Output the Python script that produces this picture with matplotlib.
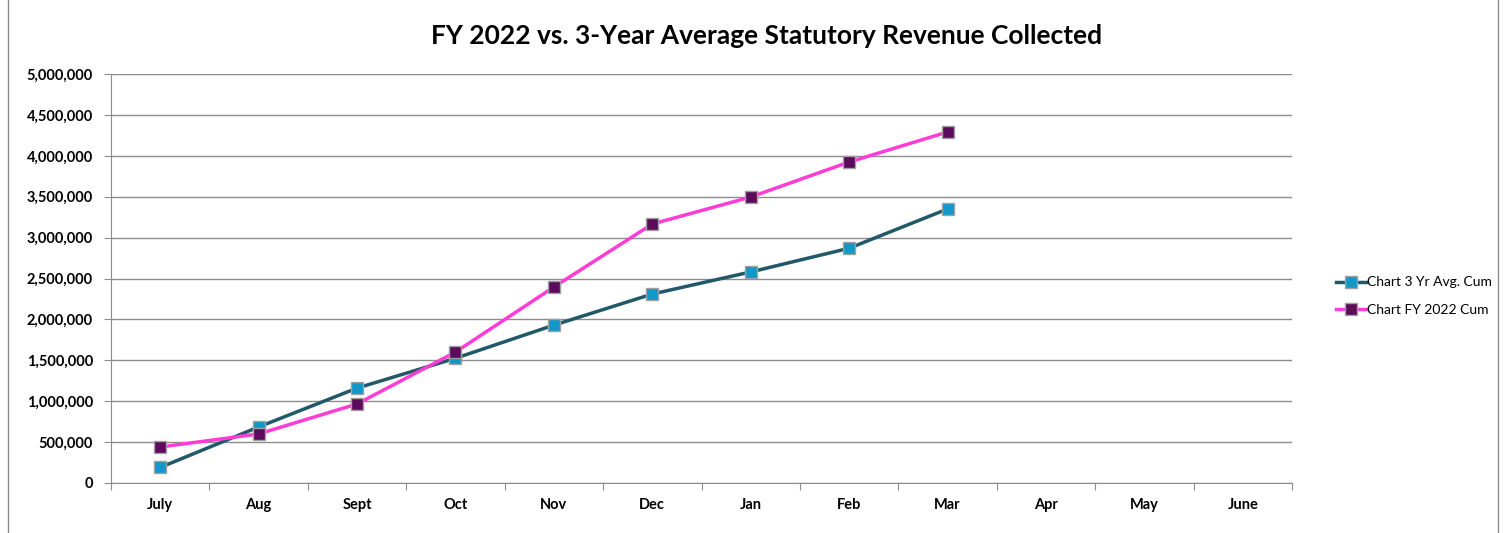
import matplotlib.pyplot as plt
from matplotlib.patches import Rectangle
from matplotlib.ticker import FuncFormatter, MultipleLocator

months = ["July", "Aug", "Sept", "Oct", "Nov", "Dec", "Jan", "Feb", "Mar", "Apr", "May", "June"]
avg_3yr = [190000, 685000, 1160000, 1525000, 1930000, 2310000, 2580000, 2870000, 3350000]
fy_2022 = [440000, 600000, 966000, 1600000, 2396000, 3166000, 3496000, 3924000, 4291000]

plt.rcParams['font.family'] = ['Lato', 'DejaVu Sans']

fig = plt.figure(figsize=(15.05, 5.33), dpi=100)
ax = fig.add_axes([111 / 1505, 50 / 533, 1181 / 1505, 409 / 533])

x_all = list(range(len(months)))
ax.plot(range(len(avg_3yr)), avg_3yr, color="#215968", lw=2.5, marker="s", ms=9,
        mfc="#1297c9", mec="#a0a0a0", mew=1, label="Chart 3 Yr Avg. Cum", zorder=3)
ax.plot(range(len(fy_2022)), fy_2022, color="#ff3cd6", lw=2.5, marker="s", ms=9,
        mfc="#5c0a5c", mec="#a0a0a0", mew=1, label="Chart FY 2022 Cum", zorder=4)

ax.set_xlim(-0.5, len(months) - 0.5)
ax.set_ylim(0, 5000000)
ax.yaxis.set_major_locator(MultipleLocator(500000))
ax.yaxis.set_major_formatter(FuncFormatter(lambda v, p: f"{int(v):,}"))
ax.grid(axis="y", color="#8c8c8c", lw=1)
ax.set_axisbelow(True)

ax.set_xticks([i - 0.5 for i in range(len(months) + 1)], minor=False)
ax.set_xticklabels([])
ax.set_xticks(x_all, minor=True)
ax.set_xticklabels(months, minor=True, fontsize=10.5, fontweight="bold")
ax.tick_params(axis="x", which="minor", length=0, pad=11)
ax.tick_params(axis="x", which="major", length=5, color="#8c8c8c")
ax.tick_params(axis="y", length=5, color="#8c8c8c", labelsize=10.5, pad=8)
for lab in ax.get_yticklabels():
    lab.set_fontweight("bold")

for side in ["top", "right"]:
    ax.spines[side].set_visible(False)
ax.spines["left"].set_color("#8c8c8c")
ax.spines["bottom"].set_color("#8c8c8c")

fig.text(767 / 1505, 1 - 36 / 533, "FY 2022 vs. 3-Year Average Statutory Revenue Collected",
         ha="center", va="center", fontsize=19, fontweight="bold")

fig.legend(loc="center left", bbox_to_anchor=(1323 / 1505, 1 - 296 / 533), frameon=False,
           fontsize=10, handlelength=2.2, handletextpad=0.1, labelspacing=1.1)

fig.patches.append(Rectangle((8 / 1505, -0.01), 1490 / 1505, 1.02, transform=fig.transFigure,
                             fill=False, ec="#8c8c8c", lw=1))

fig.savefig("out.png", dpi=100)
